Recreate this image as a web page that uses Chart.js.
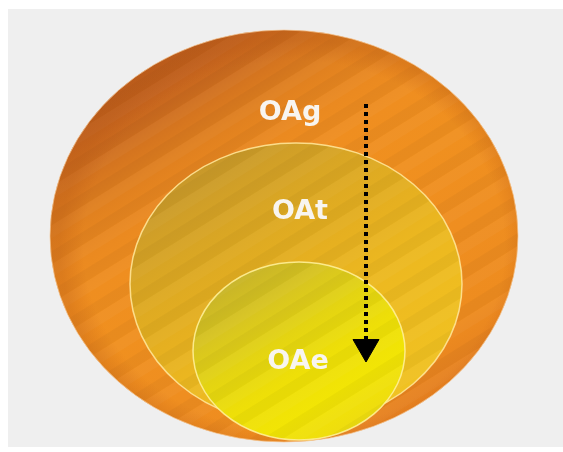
<!DOCTYPE html>
<html>
<head>
<meta charset="utf-8">
<script src="https://cdn.jsdelivr.net/npm/chart.js@4.4.1/dist/chart.umd.min.js"></script>
<style>
html,body{margin:0;padding:0;background:#ffffff;}
#wrap{width:563px;height:452px;}
</style>
</head>
<body>
<div id="wrap"><canvas id="c" width="563" height="452"></canvas></div>
<script>
// ---- data (diagram units) ----
const layers  = ['OAg', 'OAt', 'OAe'];
const centerX = [284, 296, 299];
const centerY = [236, 284, 351];
const radiusX = [234, 166, 106];
const radiusY = [206, 141, 89];
const labelX  = [290, 300, 298];
const labelY  = [113, 212, 362];
const arrowX  = [366, 366];
const arrowY  = [104, 339];
const arrowHeadX = [366];
const arrowHeadY = [347];

const layerStops = [
  [[0,'#BA5B1D'],[0.06,'#C4631E'],[0.13,'#D2721F'],[0.21,'#E0801F'],[0.29,'#EA8920'],[0.37,'#EF8E20'],[0.5,'#F0901F'],[0.7,'#EF8E20'],[0.88,'#EE8C1F'],[1,'#E58020']],
  [[0,'#C8982A'],[0.15,'#D4A226'],[0.3,'#DEAA22'],[0.45,'#E6B020'],[0.6,'#ECB820'],[0.8,'#EFBD20'],[1,'#F0C222']],
  [[0,'#C8B428'],[0.2,'#D8C520'],[0.4,'#E4D412'],[0.6,'#EEDF08'],[0.8,'#F2E505'],[1,'#EEDC10']]
];
const edgeColors = ['rgba(245,200,150,0.7)','rgba(255,228,150,0.9)','rgba(255,240,150,0.9)'];

const ellipsePlugin = {
  id: 'ellipses',
  beforeDraw(chart) {
    const ctx = chart.ctx;
    ctx.save();
    ctx.fillStyle = '#ffffff';
    ctx.fillRect(0, 0, chart.width, chart.height);
    ctx.fillStyle = '#EFEFEF';
    ctx.fillRect(8, 9, chart.width - 8, 438);
    ctx.restore();
  },
  beforeDatasetsDraw(chart) {
    const ctx = chart.ctx;
    const xs = chart.scales.x, ys = chart.scales.y;
    const dx = 0.53, dy = 0.85;
    for (let i = 0; i < layers.length; i++) {
      const px = xs.getPixelForValue(centerX[i]);
      const py = ys.getPixelForValue(centerY[i]);
      const rx = Math.abs(xs.getPixelForValue(centerX[i] + radiusX[i]) - px);
      const ry = Math.abs(ys.getPixelForValue(centerY[i] + radiusY[i]) - py);
      const ext = Math.sqrt((rx * dx) ** 2 + (ry * dy) ** 2);
      ctx.save();
      ctx.beginPath();
      ctx.ellipse(px, py, rx, ry, 0, 0, Math.PI * 2);
      const g = ctx.createLinearGradient(px - dx * ext, py - dy * ext, px + dx * ext, py + dy * ext);
      layerStops[i].forEach(s => g.addColorStop(s[0], s[1]));
      ctx.fillStyle = g;
      ctx.fill();
      ctx.clip();
      // diagonal stripes
      ctx.translate(px, py);
      ctx.rotate(-Math.atan2(dx, dy));
      const band = 11;
      for (let k = -40, n = 0; k < 40; k++, n++) {
        ctx.fillStyle = (n % 3 === 0) ? 'rgba(0,0,0,0.03)' : (n % 3 === 1 ? 'rgba(255,255,255,0.03)' : 'rgba(0,0,0,0)');
        ctx.fillRect(-400, k * band, 800, band);
      }
      ctx.setTransform(1, 0, 0, 1, 0, 0);
      if (i === 0) {
        ctx.translate(px + 10, py + 10);
        ctx.scale(1, ry / rx);
        const rg = ctx.createRadialGradient(0, 0, 0, 0, 0, rx);
        rg.addColorStop(0, 'rgba(190,90,20,0)');
        rg.addColorStop(0.9, 'rgba(190,90,20,0)');
        rg.addColorStop(1, 'rgba(185,90,20,0.3)');
        ctx.fillStyle = rg;
        ctx.fillRect(-rx - 20, -rx - 20, 2 * rx + 40, 2 * rx + 40);
        ctx.setTransform(1, 0, 0, 1, 0, 0);
      }
      ctx.restore();
      ctx.save();
      ctx.beginPath();
      ctx.ellipse(px, py, rx, ry, 0, 0, Math.PI * 2);
      ctx.strokeStyle = edgeColors[i];
      ctx.lineWidth = i === 0 ? 1 : 1.5;
      ctx.stroke();
      ctx.restore();
    }
  },
  afterDatasetsDraw(chart) {
    const ctx = chart.ctx;
    const xs = chart.scales.x, ys = chart.scales.y;
    ctx.save();
    ctx.font = 'bold 27px "DejaVu Sans", Verdana, sans-serif';
    ctx.fillStyle = '#F8F5F0';
    ctx.textAlign = 'center';
    ctx.textBaseline = 'middle';
    for (let i = 0; i < layers.length; i++) {
      ctx.fillText(layers[i], xs.getPixelForValue(labelX[i]), ys.getPixelForValue(labelY[i]));
    }
    ctx.restore();
  }
};

new Chart(document.getElementById('c'), {
  type: 'scatter',
  data: {
    datasets: [
      {
        label: 'arrow',
        data: arrowX.map((x, k) => ({ x, y: arrowY[k] })),
        showLine: true,
        borderColor: '#000000',
        borderWidth: 4,
        borderDash: [4, 4],
        borderCapStyle: 'butt',
        pointRadius: 0
      },
      {
        label: 'arrowhead',
        data: arrowHeadX.map((x, k) => ({ x, y: arrowHeadY[k] })),
        pointStyle: 'triangle',
        rotation: 180,
        pointRadius: 15,
        backgroundColor: '#000000',
        borderColor: '#000000',
        borderWidth: 1
      }
    ]
  },
  options: {
    responsive: false,
    animation: false,
    devicePixelRatio: 1,
    layout: { padding: 0, autoPadding: false },
    scales: {
      x: { type: 'linear', min: 0, max: 563, display: false },
      y: { type: 'linear', min: 0, max: 452, reverse: true, display: false }
    },
    plugins: { legend: { display: false }, tooltip: { enabled: false } }
  },
  plugins: [ellipsePlugin]
});
</script>
</body>
</html>
